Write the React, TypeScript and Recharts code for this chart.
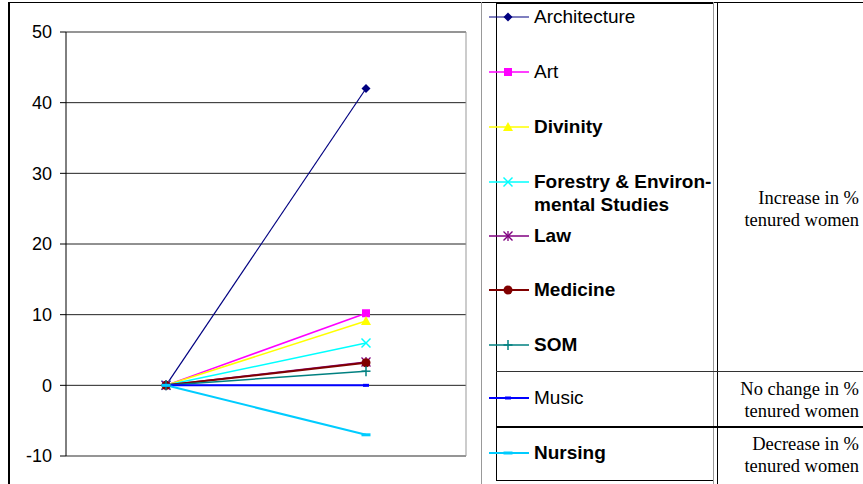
import { CartesianGrid, Line, LineChart, ReferenceLine, XAxis, YAxis } from 'recharts';

const periods = ['Before', 'After'];
const yTicks = [-10, 0, 10, 20, 30, 40, 50];

const architecture = [0, 42];
const art = [0, 10.2];
const divinity = [0, 9.1];
const forestry = [0, 6];
const law = [0, 3.3];
const medicine = [0, 3.2];
const som = [0, 2];
const music = [0, 0];
const nursing = [0, -7];

const series = [
    { key: 'architecture', label: ['Architecture'], values: architecture, color: '#000080', shape: 'diamond', bold: false, width: 1.2, legendY: 17 },
    { key: 'art', label: ['Art'], values: art, color: '#FF00FF', shape: 'square', bold: false, width: 1.5, legendY: 72 },
    { key: 'divinity', label: ['Divinity'], values: divinity, color: '#FFFF00', shape: 'triangle', bold: true, width: 1.5, legendY: 127 },
    { key: 'forestry', label: ['Forestry & Environ-', 'mental Studies'], values: forestry, color: '#00FFFF', shape: 'x', bold: true, width: 1.5, legendY: 182 },
    { key: 'law', label: ['Law'], values: law, color: '#800080', shape: 'star', bold: true, width: 1.5, legendY: 236 },
    { key: 'medicine', label: ['Medicine'], values: medicine, color: '#800000', shape: 'circle', bold: true, width: 2, legendY: 290 },
    { key: 'som', label: ['SOM'], values: som, color: '#008080', shape: 'plus', bold: true, width: 1.5, legendY: 345 },
    { key: 'music', label: ['Music'], values: music, color: '#0000FF', shape: 'smalldash', bold: false, width: 2, legendY: 398 },
    { key: 'nursing', label: ['Nursing'], values: nursing, color: '#00CCFF', shape: 'dash', bold: true, width: 2, legendY: 453 },
];

const data = periods.map((period, i) => {
    const row: any = { period };
    series.forEach(s => { row[s.key] = s.values[i]; });
    return row;
});

function Marker({ shape, cx, cy, color }: any) {
    switch (shape) {
        case 'diamond':
            return <polygon points={`${cx},${cy - 4.5} ${cx + 4.5},${cy} ${cx},${cy + 4.5} ${cx - 4.5},${cy}`} fill={color} />;
        case 'square':
            return <rect x={cx - 4} y={cy - 4} width={8} height={8} fill={color} />;
        case 'triangle':
            return <polygon points={`${cx},${cy - 5} ${cx + 5},${cy + 4} ${cx - 5},${cy + 4}`} fill={color} />;
        case 'x':
            return (
                <g stroke={color} strokeWidth={1.5}>
                    <line x1={cx - 4.5} y1={cy - 4.5} x2={cx + 4.5} y2={cy + 4.5} />
                    <line x1={cx - 4.5} y1={cy + 4.5} x2={cx + 4.5} y2={cy - 4.5} />
                </g>
            );
        case 'star':
            return (
                <g stroke={color} strokeWidth={1.3}>
                    <line x1={cx} y1={cy - 5} x2={cx} y2={cy + 5} />
                    <line x1={cx - 4.5} y1={cy - 4.5} x2={cx + 4.5} y2={cy + 4.5} />
                    <line x1={cx - 4.5} y1={cy + 4.5} x2={cx + 4.5} y2={cy - 4.5} />
                </g>
            );
        case 'circle':
            return <circle cx={cx} cy={cy} r={4.5} fill={color} />;
        case 'plus':
            return (
                <g stroke={color} strokeWidth={1.5}>
                    <line x1={cx} y1={cy - 5} x2={cx} y2={cy + 5} />
                    <line x1={cx - 4.5} y1={cy} x2={cx + 4.5} y2={cy} />
                </g>
            );
        case 'smalldash':
            return <rect x={cx - 3} y={cy - 1.5} width={6} height={3} fill={color} />;
        case 'dash':
            return <rect x={cx - 4.5} y={cy - 1.5} width={9} height={3} fill={color} />;
        default:
            return null;
    }
}

function Rule({ x, y, w, h, color }: any) {
    return <div style={{ position: 'absolute', left: x, top: y, width: w, height: h, background: color }} />;
}

function App() {
    return (
        <div style={{ position: 'absolute', left: 0, top: 0, width: 863, height: 484, background: '#fff', overflow: 'hidden', fontFamily: 'Arial, "Liberation Sans", sans-serif' }}>
            <div style={{ position: 'absolute', left: 0, top: 0 }}>
                <LineChart width={480} height={484} data={data} margin={{ top: 32, right: 14, bottom: 28, left: 16 }}>
                    <CartesianGrid vertical={false} stroke="#222" />
                    <CartesianGrid horizontal={false} verticalPoints={[466]} stroke="#999" />
                    <ReferenceLine y={50} stroke="#999" />
                    <ReferenceLine y={-10} stroke="#999" />
                    <XAxis dataKey="period" hide padding={{ left: 100, right: 100 }} />
                    <YAxis
                        width={50}
                        domain={[-10, 50]}
                        ticks={yTicks}
                        interval={0}
                        axisLine={{ stroke: '#000' }}
                        tickLine={{ stroke: '#000' }}
                        tickSize={6}
                        tickMargin={8}
                        tick={{ fill: '#000', fontSize: 18, fontFamily: 'Arial, "Liberation Sans"' }}
                    />
                    {series.map(s => (
                        <Line
                            key={s.key}
                            dataKey={s.key}
                            stroke={s.color}
                            strokeWidth={s.width}
                            isAnimationActive={false}
                            dot={(p: any) => <Marker key={`${s.key}-${p.index}`} shape={s.shape} cx={p.cx} cy={p.cy} color={s.color} />}
                            activeDot={false}
                        />
                    ))}
                </LineChart>
            </div>

            {/* table frame */}
            <Rule x={8} y={2} w={855} h={1} color="#000" />
            <Rule x={496} y={2} w={217} h={2} color="#000" />
            <Rule x={8} y={2} w={2} h={482} color="#000" />
            <Rule x={481} y={2} w={1} h={482} color="#999" />
            <Rule x={496} y={2} w={1} h={479} color="#000" />
            <Rule x={713} y={2} w={1} h={482} color="#999" />
            <Rule x={717} y={2} w={1} h={482} color="#000" />
            <Rule x={496} y={371} w={367} h={1} color="#333" />
            <Rule x={496} y={426} w={367} h={2} color="#000" />
            <Rule x={496} y={480} w={217} h={1} color="#000" />

            {/* legend */}
            {series.map(s => (
                <div key={s.key}>
                    <svg style={{ position: 'absolute', left: 489, top: s.legendY - 8, overflow: 'visible' }} width={40} height={16}>
                        <line x1={0} y1={8} x2={40} y2={8} stroke={s.color} strokeWidth={s.width} />
                        <Marker shape={s.shape} cx={19} cy={8} color={s.color} />
                    </svg>
                    {s.label.map((t, i) => (
                        <div
                            key={t}
                            style={{
                                position: 'absolute',
                                left: 534,
                                top: s.legendY - 11 + i * 23,
                                fontSize: 19,
                                lineHeight: '22px',
                                fontWeight: s.bold ? 'bold' : 'normal',
                                color: '#000',
                                whiteSpace: 'nowrap',
                            }}
                        >
                            {t}
                        </div>
                    ))}
                </div>
            ))}

            {/* group notes */}
            {[
                { y: 187, lines: ['Increase in %', 'tenured women'] },
                { y: 378, lines: ['No change in %', 'tenured women'] },
                { y: 433, lines: ['Decrease in %', 'tenured women'] },
            ].map(n => (
                <div
                    key={n.y}
                    style={{
                        position: 'absolute',
                        right: 4,
                        top: n.y,
                        textAlign: 'right',
                        fontFamily: '"Liberation Serif", "Times New Roman", serif',
                        fontSize: 18.5,
                        lineHeight: '22px',
                        color: '#000',
                        whiteSpace: 'nowrap',
                    }}
                >
                    {n.lines.map(l => <div key={l}>{l}</div>)}
                </div>
            ))}
        </div>
    );
}

export default App;
